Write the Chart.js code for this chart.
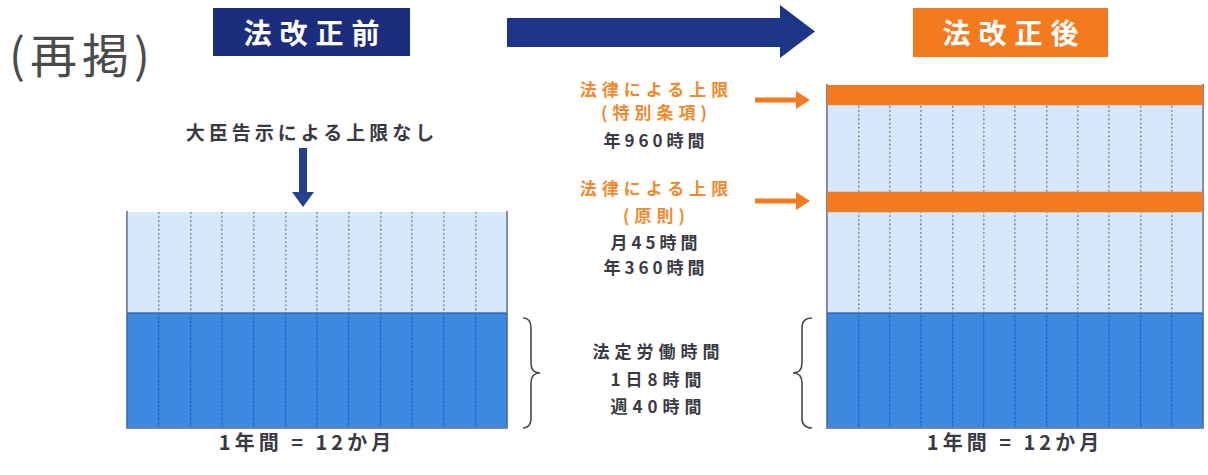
<!DOCTYPE html>
<html lang="ja">
<head>
<meta charset="utf-8">
<title>法改正前・法改正後</title>
<script src="https://cdn.jsdelivr.net/npm/chart.js@4.4.1/dist/chart.umd.min.js"></script>
<style>
  html, body { margin: 0; padding: 0; background: #fff; }
  body {
    position: relative;
    width: 1208px;
    height: 475px;
    overflow: hidden;
    font-family: "Noto Sans CJK JP", "Noto Sans", sans-serif;
    color: #3b3945;
  }
  .abs { position: absolute; }
  .lbl {
    position: absolute;
    width: 300px;
    height: 30px;
    line-height: 30px;
    text-align: center;
    font-size: 17px;
    font-weight: 700;
    letter-spacing: 5px;
    text-indent: 5px;
    white-space: nowrap;
  }
  .orange { color: #f18a2e; }
  .tag {
    position: absolute;
    color: #fff;
    font-size: 28px;
    font-weight: 700;
    letter-spacing: 8px;
    text-indent: 8px;
    text-align: center;
  }
  .box { position: absolute; }
</style>
</head>
<body>

<!-- 図形（矢印・かっこ） -->
<svg class="abs" style="left:0;top:0" width="1208" height="475">
  <polygon points="507,18 780,18 780,5 815,31.5 780,58 780,47 507,47" fill="#1d3585"/>
  <rect x="299" y="148" width="8" height="45" fill="#25408f"/>
  <polygon points="292,192 314,192 303,207" fill="#25408f"/>
  <rect x="755" y="97.5" width="42" height="5" fill="#f47a20"/>
  <polygon points="796,91 810,100 796,109" fill="#f47a20"/>
  <rect x="755" y="198.5" width="42" height="5" fill="#f47a20"/>
  <polygon points="796,192 810,201 796,210" fill="#f47a20"/>
  <path d="M523,318 Q531,318 531,328 L531,363 Q531,373 540,373 Q531,373 531,383 L531,418 Q531,428 523,428"
        fill="none" stroke="#4a4a55" stroke-width="1.6"/>
  <path d="M812,318 Q802,318 802,328 L802,363 Q802,373 793,373 Q802,373 802,383 L802,418 Q802,428 812,428"
        fill="none" stroke="#4a4a55" stroke-width="1.6"/>
</svg>

<div class="abs" style="left:9px;top:28px;height:50px;line-height:50px;font-size:47px;letter-spacing:5px;color:#4b4b4b;white-space:nowrap">(再掲)</div>

<div class="tag" style="left:213px;top:8px;width:197px;height:48px;line-height:48px;background:#1b2d7c">法改正前</div>
<div class="tag" style="left:913px;top:8px;width:195px;height:49px;line-height:49px;background:#f47a20">法改正後</div>

<div class="lbl" style="left:160px;top:117px;font-size:19px;letter-spacing:4px;text-indent:4px">大臣告示による上限なし</div>

<div class="lbl orange" style="left:504px;top:74px">法律による上限</div>
<div class="lbl orange" style="left:504px;top:97px">(特別条項)</div>
<div class="lbl" style="left:504px;top:125px;letter-spacing:4px;text-indent:4px">年960時間</div>

<div class="lbl orange" style="left:504px;top:173px">法律による上限</div>
<div class="lbl orange" style="left:504px;top:200px">(原則)</div>
<div class="lbl" style="left:504px;top:227px;letter-spacing:4px;text-indent:4px">月45時間</div>
<div class="lbl" style="left:504px;top:252px;letter-spacing:4px;text-indent:4px">年360時間</div>

<div class="lbl" style="left:506px;top:336px">法定労働時間</div>
<div class="lbl" style="left:506px;top:364px">1日8時間</div>
<div class="lbl" style="left:506px;top:391px">週40時間</div>

<div class="lbl" style="left:155px;top:427px;font-size:20px;letter-spacing:4px;text-indent:4px">1年間 = 12か月</div>
<div class="lbl" style="left:863px;top:427px;font-size:20px;letter-spacing:4px;text-indent:4px">1年間 = 12か月</div>

<!-- グラフ -->
<div class="box" style="left:123px;top:208px;width:388px;height:224px"><canvas id="before"></canvas></div>
<div class="box" style="left:823px;top:81px;width:384px;height:351px"><canvas id="after"></canvas></div>

<script>
// 12か月（カテゴリ）
const months = ["1月", "2月", "3月", "4月", "5月", "6月", "7月", "8月", "9月", "10月", "11月", "12月"];

// 模式図の高さ（図の上での相対値）
const statutory = [115, 115, 115, 115, 115, 115, 115, 115, 115, 115, 115, 115]; // 法定労働時間
const noLimit = [101, 101, 101, 101, 101, 101, 101, 101, 101, 101, 101, 101]; // 上限なし（法改正前）
const principle = [101, 101, 101, 101, 101, 101, 101, 101, 101, 101, 101, 101]; // 原則の範囲
const principleCap = [20, 20, 20, 20, 20, 20, 20, 20, 20, 20, 20, 20]; // 上限線（原則）
const special = [87, 87, 87, 87, 87, 87, 87, 87, 87, 87, 87, 87]; // 特別条項の範囲
const specialCap = [20, 20, 20, 20, 20, 20, 20, 20, 20, 20, 20, 20]; // 上限線（特別条項）

// 横線を引く位置（0 と 法定労働時間の上端）
const lineTicks = [0, 115];

const darkBlue = "rgba(15, 106, 216, 0.8)";
const lightBlue = "rgba(132, 185, 238, 0.32)";
const orange = "#f47a20";
const frame = "#7f889c";

const total = (arrs) => arrs.reduce((s, a) => s + a[0], 0);

const makeOptions = (max) => ({
  responsive: true,
  maintainAspectRatio: false,
  animation: false,
  layout: { padding: 4 },
  plugins: {
    legend: { display: false },
    tooltip: { enabled: false },
  },
  scales: {
    x: {
      stacked: true,
      ticks: { display: false },
      // 月の区切り（点線）
      grid: {
        color: "#5d6f98",
        lineWidth: 1.6,
        drawTicks: false,
        offset: true,
        borderDash: [1.6, 2.6],
      },
      border: { display: false, dash: [1.6, 2.6] },
    },
    y: {
      stacked: true,
      min: 0,
      max: max,
      z: 1,
      ticks: { display: false },
      afterBuildTicks: (scale) => {
        scale.ticks = lineTicks.map((v) => ({ value: v }));
      },
      grid: { color: frame, lineWidth: 2, drawTicks: false },
      border: { display: true, color: frame, width: 2 },
    },
    y2: {
      position: "right",
      z: 1,
      ticks: { display: false },
      grid: { display: false, drawTicks: false },
      border: { display: true, color: frame, width: 2 },
    },
  },
});

const barSet = (label, data, color) => ({
  label: label,
  data: data,
  backgroundColor: color,
  borderWidth: 0,
  barPercentage: 1,
  categoryPercentage: 1,
});

// 法改正前
new Chart(document.getElementById("before"), {
  type: "bar",
  data: {
    labels: months,
    datasets: [
      barSet("法定労働時間", statutory, darkBlue),
      barSet("上限なし", noLimit, lightBlue),
    ],
  },
  options: makeOptions(total([statutory, noLimit])),
});

// 法改正後
new Chart(document.getElementById("after"), {
  type: "bar",
  data: {
    labels: months,
    datasets: [
      barSet("法定労働時間", statutory, darkBlue),
      barSet("原則", principle, lightBlue),
      barSet("上限（原則）", principleCap, orange),
      barSet("特別条項", special, lightBlue),
      barSet("上限（特別条項）", specialCap, orange),
    ],
  },
  options: makeOptions(total([statutory, principle, principleCap, special, specialCap])),
});
</script>
</body>
</html>
